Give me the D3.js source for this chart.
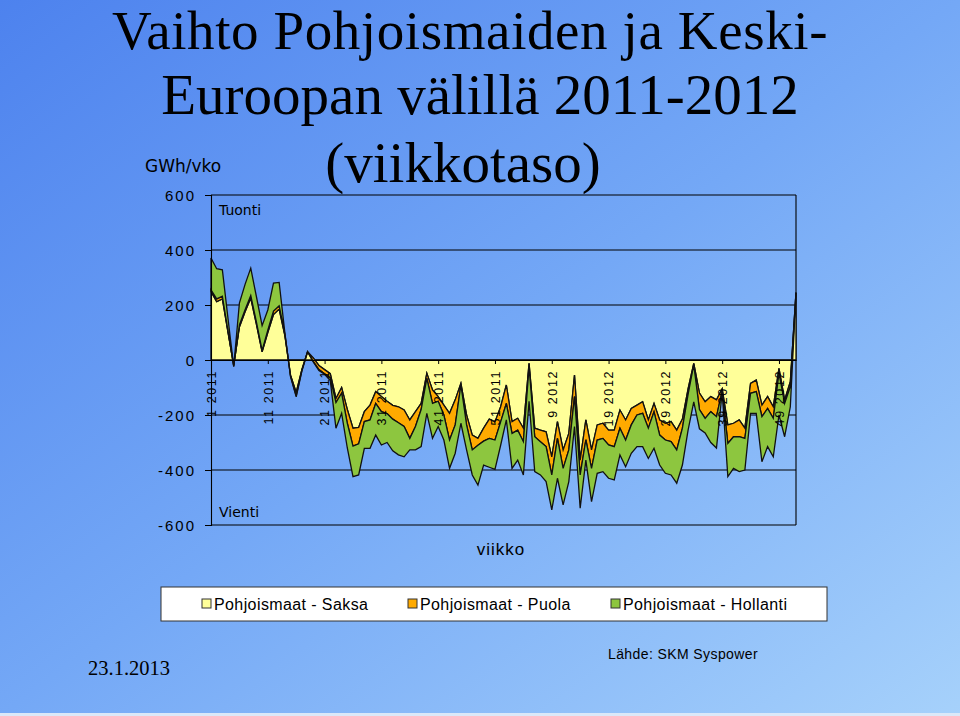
<!DOCTYPE html>
<html><head><meta charset="utf-8">
<script src="https://cdn.jsdelivr.net/npm/d3@7/dist/d3.min.js"></script>
<style>body{margin:0;background:#fff}svg{display:block}</style>
</head><body>
<svg id="c" width="960" height="716"></svg>
<script>
const weeks = [
"1 2011","2 2011","3 2011","4 2011","5 2011","6 2011","7 2011","8 2011","9 2011","10 2011",
"11 2011","12 2011","13 2011","14 2011","15 2011","16 2011","17 2011","18 2011","19 2011","20 2011",
"21 2011","22 2011","23 2011","24 2011","25 2011","26 2011","27 2011","28 2011","29 2011","30 2011",
"31 2011","32 2011","33 2011","34 2011","35 2011","36 2011","37 2011","38 2011","39 2011","40 2011",
"41 2011","42 2011","43 2011","44 2011","45 2011","46 2011","47 2011","48 2011","49 2011","50 2011",
"51 2011","52 2011",
"1 2012","2 2012","3 2012","4 2012","5 2012","6 2012","7 2012","8 2012","9 2012","10 2012",
"11 2012","12 2012","13 2012","14 2012","15 2012","16 2012","17 2012","18 2012","19 2012","20 2012",
"21 2012","22 2012","23 2012","24 2012","25 2012","26 2012","27 2012","28 2012","29 2012","30 2012",
"31 2012","32 2012","33 2012","34 2012","35 2012","36 2012","37 2012","38 2012","39 2012","40 2012",
"41 2012","42 2012","43 2012","44 2012","45 2012","46 2012","47 2012","48 2012","49 2012","50 2012",
"51 2012","52 2012"];

// GWh/vko, Pohjoismaat - Saksa
const saksa = [
249,212,222,100,-20,120,175,225,130,30,
100,165,185,90,-55,-118,-35,30,8,-20,
-35,-50,-140,-100,-180,-248,-245,-188,-164,-115,
-133,-150,-165,-170,-182,-218,-188,-158,-48,-109,
-133,-164,-194,-145,-85,-200,-273,-285,-248,-215,
-225,-170,-91,-224,-212,-248,-12,-248,-255,-261,
-352,-224,-327,-267,-55,-364,-218,-327,-236,-230,
-255,-255,-182,-218,-176,-164,-152,-218,-158,-218,
-230,-224,-255,-215,-105,-12,-120,-152,-133,-145,
-105,-236,-230,-218,-248,-85,-73,-164,-133,-170,
-30,-145,-79,245];
// Pohjoismaat - Puola
const puola = [
6,10,10,5,-2,8,8,10,8,5,
8,13,12,5,-3,-12,-3,0,-13,-15,
-15,-15,-15,-21,-50,-65,-60,-36,-54,-43,
-55,-45,-50,-58,-60,-67,-54,-22,-19,-49,
-17,-36,-97,-91,-6,-36,-54,-25,-47,-70,
-66,-55,-67,-43,-43,-49,-13,-31,-42,-54,
-66,-61,-67,-60,-78,-54,-72,-67,-55,-55,
-54,-60,-66,-73,-60,-36,-42,-30,-30,-55,
-61,-73,-72,-33,-20,-6,-60,-60,-55,-61,
-7,-67,-49,-61,-37,-36,-42,-42,-43,-42,
-18,-13,-18,0];
// Pohjoismaat - Hollanti
const hollanti = [
116,110,96,45,-2,79,92,99,92,90,
74,102,85,5,-2,-4,-2,0,-2,-3,
-2,-10,-93,-73,-90,-111,-113,-97,-103,-115,
-121,-105,-115,-117,-110,-42,-85,-135,-127,-127,
-92,-91,-103,-103,-139,-91,-91,-145,-87,-105,
-107,-85,-60,-127,-109,-121,-125,-127,-121,-127,
-127,-145,-133,-115,-109,-121,-74,-121,-121,-121,
-121,-121,-97,-97,-103,-115,-121,-110,-133,-109,
-121,-121,-121,-134,-130,-134,-70,-53,-112,-114,
-6,-121,-115,-127,-115,-73,-79,-164,-139,-140,
-152,-121,-73,0];

const seriesNames = ["Pohjoismaat - Saksa","Pohjoismaat - Puola","Pohjoismaat - Hollanti"];
const seriesKeys = ["saksa","puola","hollanti"];
const seriesColors = ["#FFFF99","#FFAA00","#8DC63F"];
const yTicks = [600,400,200,0,-200,-400,-600];
const xTickLabels = ["1 2011","11 2011","21 2011","31 2011","41 2011","51 2011","9 2012","19 2012","29 2012","39 2012","49 2012"];
const titleLines = ["Vaihto Pohjoismaiden ja Keski-","Euroopan välillä 2011-2012","(viikkotaso)"];
const titleCenters = [470,480,463];

const svg = d3.select("#c");
const defs = svg.append("defs");
const grad = defs.append("linearGradient").attr("id","bg")
  .attr("x1","0").attr("y1","0").attr("x2","1").attr("y2","1");
grad.append("stop").attr("offset","0").attr("stop-color","#4d82ee");
grad.append("stop").attr("offset","0.5").attr("stop-color","#74a8f6");
grad.append("stop").attr("offset","1").attr("stop-color","#a6d1fb");
svg.append("rect").attr("width",960).attr("height",716).attr("fill","url(#bg)");
svg.append("rect").attr("x",0).attr("y",713).attr("width",960).attr("height",3).attr("fill","#dbe8f8");

// Title
const tFont = [55,57,57], tBase = [49,114,182], tSpace = ["0.6px","0px","0px"];
svg.append("g").selectAll("text").data(titleLines).join("text")
  .attr("x",(d,i)=>titleCenters[i]).attr("y",(d,i)=>tBase[i])
  .attr("text-anchor","middle")
  .attr("font-family","'Liberation Serif','Times New Roman',serif")
  .attr("font-size",(d,i)=>tFont[i]).style("letter-spacing",(d,i)=>tSpace[i])
  .attr("fill","#000").text(d=>d);

const L=211, R=796;
const x = d3.scalePoint().domain(weeks).range([L,R]);
const y = d3.scaleLinear().domain([-600,600]).range([525,195]);

// gridlines
svg.append("g").selectAll("line").data(yTicks).join("line")
  .attr("x1",L).attr("x2",R).attr("y1",d=>y(d)).attr("y2",d=>y(d))
  .attr("stroke","#000").attr("stroke-width",1.1);
svg.append("line").attr("x1",R).attr("x2",R).attr("y1",y(600)).attr("y2",y(-600))
  .attr("stroke","#000").attr("stroke-width",1.1);

// stacked areas
const table = weeks.map((w,i)=>({week:w, saksa:saksa[i], puola:puola[i], hollanti:hollanti[i]}));
const layers = d3.stack().keys(seriesKeys).offset(d3.stackOffsetNone)(table);
const area = d3.area().x(d=>x(d.data.week)).y0(d=>y(d[0])).y1(d=>y(d[1]));
svg.append("g").selectAll("path").data(layers).join("path")
  .attr("d",area).attr("fill",(d,i)=>seriesColors[i])
  .attr("stroke","#111").attr("stroke-width",1.3).attr("stroke-linejoin","miter");

// y axis
const yAxis = svg.append("g").attr("transform",`translate(${L},0)`)
  .call(d3.axisLeft(y).tickValues(yTicks).tickSize(6).tickPadding(9).tickFormat(d3.format("d")));
yAxis.select(".domain").attr("stroke","#000").attr("stroke-width",1.1);
yAxis.selectAll(".tick line").attr("stroke","#000");
yAxis.selectAll("text").attr("font-family","'Liberation Sans',Arial,sans-serif")
  .attr("font-size",15).attr("fill","#000").style("letter-spacing","2px")
  .attr("dy","0.36em").text(d=>d<0?"-"+Math.abs(d):String(d));

// x axis at zero
const xAxis = svg.append("g").attr("transform",`translate(0,${y(0)})`)
  .call(d3.axisBottom(x).tickValues(xTickLabels).tickSize(4).tickSizeOuter(0));
xAxis.select(".domain").attr("stroke","#000").attr("stroke-width",1.2);
xAxis.selectAll(".tick line").attr("stroke","#000");
xAxis.selectAll("text").attr("transform","rotate(-90)")
  .attr("x",-10).attr("y",0).attr("dy","0.35em").attr("text-anchor","end")
  .attr("font-family","'Liberation Sans',Arial,sans-serif")
  .attr("font-size",12.5).attr("fill","#000").style("letter-spacing","1.6px");

// annotations
const sans = "'DejaVu Sans',Verdana,sans-serif";
svg.append("text").attr("x",145).attr("y",172).attr("font-family",sans).attr("font-size",17).text("GWh/vko");
svg.append("text").attr("x",219).attr("y",215).attr("font-family",sans).attr("font-size",14).text("Tuonti");
svg.append("text").attr("x",219).attr("y",517).attr("font-family",sans).attr("font-size",14).text("Vienti");
svg.append("text").attr("x",501).attr("y",555).attr("text-anchor","middle")
  .attr("font-family","'Liberation Sans',Arial,sans-serif").attr("font-size",17)
  .style("letter-spacing","1px").text("viikko");

// legend
const lg = svg.append("g");
lg.append("rect").attr("x",161).attr("y",587).attr("width",666).attr("height",34)
  .attr("fill","#fff").attr("stroke","#333").attr("stroke-width",1);
const legX = [202,408,611];
const items = lg.selectAll("g.it").data(seriesNames).join("g").attr("class","it")
  .attr("transform",(d,i)=>`translate(${legX[i]},0)`);
items.append("rect").attr("x",0).attr("y",599).attr("width",9).attr("height",9)
  .attr("fill",(d,i)=>seriesColors[i]).attr("stroke","#333").attr("stroke-width",1);
items.append("text").attr("x",12).attr("y",610)
  .attr("font-family","'Liberation Sans',Arial,sans-serif").attr("font-size",16)
  .style("letter-spacing","0.4px").text(d=>d);

// footer
svg.append("text").attr("x",88).attr("y",675)
  .attr("font-family","'Liberation Serif','Times New Roman',serif").attr("font-size",20.5)
  .text("23.1.2013");
svg.append("text").attr("x",608).attr("y",659)
  .attr("font-family","'Liberation Sans',Arial,sans-serif").attr("font-size",14)
  .style("letter-spacing","0.4px").text("Lähde: SKM Syspower");
</script>
</body></html>
